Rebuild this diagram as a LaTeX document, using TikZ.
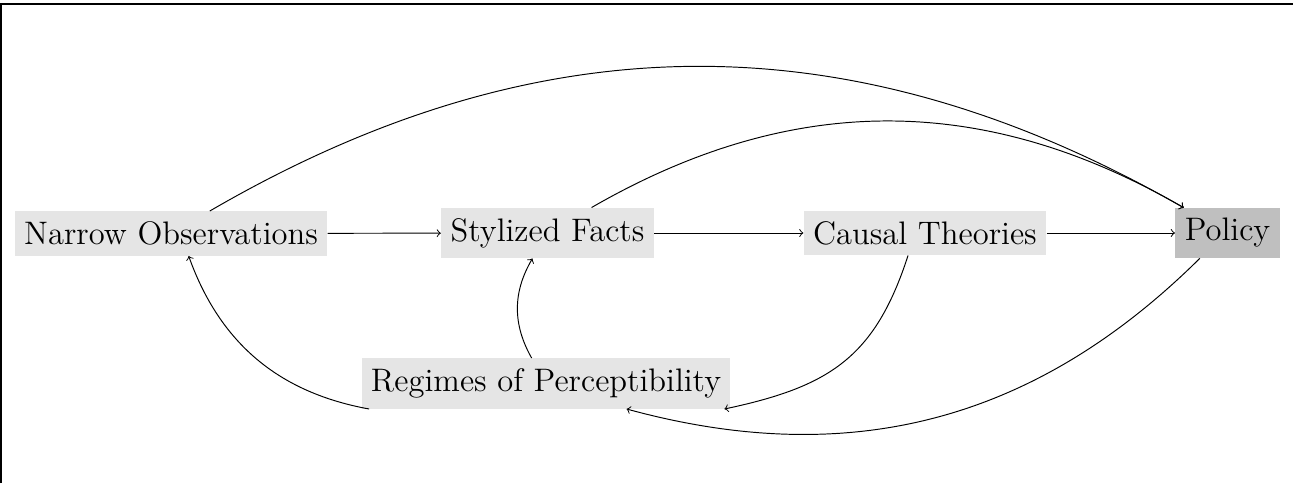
\documentclass[tikz,border=0pt]{standalone}
\usepackage{fontspec}
\newfontfamily\lmtwelve{lmroman12-regular}[Extension=.otf]
\begin{document}
\begin{tikzpicture}[x=0.4682pt,y=-0.4682pt,
  box/.style={fill=black!10, font=\lmtwelve\fontsize{15.25}{18}\selectfont, inner xsep=4.4pt, inner ysep=4.8pt},
  pbox/.style={box, fill=black!25},
  conn/.style={->, line width=0.45pt},
  frameline/.style={line width=0.7pt}]
\useasboundingbox (0,0) rectangle (1293,483);
\coordinate (tl) at (1,4);
\coordinate (tr) at (1293,4);
\coordinate (bl) at (1,483);
\draw[frameline] (bl) -- (tl) -- (tr);
\node[box] (no) at (171,233.5) {Narrow Observations};
\node[box] (sf) at (547.5,233) {Stylized Facts};
\node[box] (ct) at (925,233) {Causal Theories};
\node[pbox] (po) at (1227.5,233) {Policy};
\node[box] (rp) at (546,383.5) {Regimes of Perceptibility};
\draw[conn] (no) -- (sf);
\draw[conn] (sf) -- (ct);
\draw[conn] (ct) -- (po);
\draw[conn] (no) to[bend left=30] (po);
\draw[conn] (sf) to[bend left=30] (po);
\draw[conn] (ct.233) to[out=-108,in=12,looseness=1.15] ([xshift=-3pt]rp.south east);
\draw[conn] (po) to[bend left=30] (rp);
\draw[conn] (rp) to[bend left=30] (sf);
\draw[conn] (rp) to[bend left=30] (no);
\end{tikzpicture}
\end{document}
